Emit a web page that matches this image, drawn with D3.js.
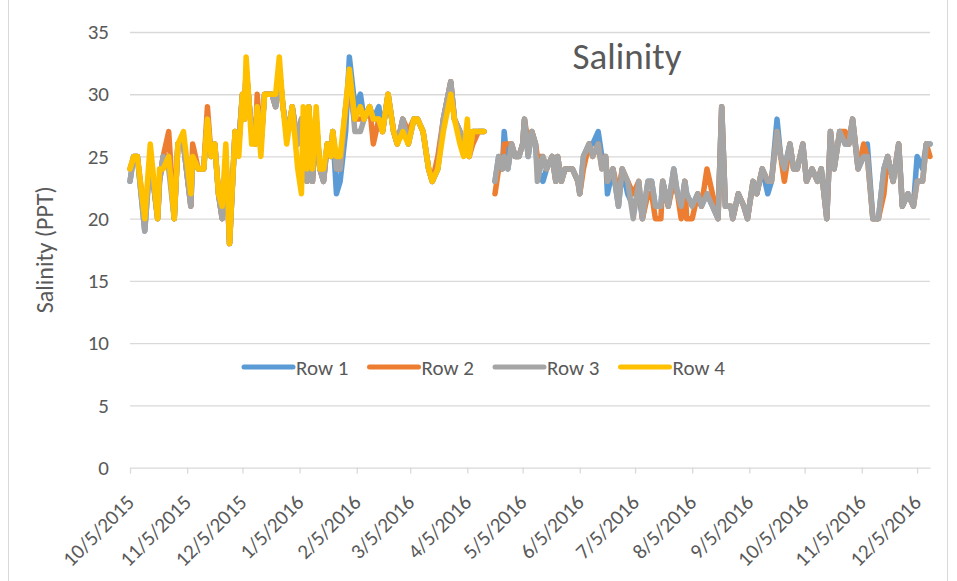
<!DOCTYPE html>
<html>
<head>
<meta charset="utf-8">
<script src="https://cdn.jsdelivr.net/npm/d3@7"></script>
<style>
body { margin: 0; background: #fff; }
text { font-family: Carlito, Calibri, Lato, sans-serif; fill: #595959; }
</style>
</head>
<body>
<div id="chart"></div>
<script>
// dates (daily readings, sampled)
var dates = [
"10/5/2015","10/7/2015","10/9/2015","10/13/2015","10/16/2015","10/20/2015","10/21/2015","10/23/2015","10/26/2015","10/29/2015",
"10/31/2015","11/3/2015","11/7/2015","11/8/2015","11/11/2015","11/14/2015","11/16/2015","11/18/2015","11/20/2015","11/22/2015",
"11/24/2015","11/26/2015","11/28/2015","12/1/2015","12/3/2015","12/5/2015","12/6/2015","12/7/2015","12/10/2015","12/12/2015",
"12/13/2015","12/15/2015","12/17/2015","12/21/2015","12/23/2015","12/25/2015","12/27/2015","12/29/2015","12/31/2015","1/1/2016",
"1/4/2016","1/6/2016","1/7/2016","1/9/2016","1/10/2016","1/12/2016","1/14/2016","1/16/2016","1/18/2016","1/20/2016",
"1/22/2016","1/23/2016","1/25/2016","1/27/2016","1/30/2016","2/1/2016","2/4/2016","2/7/2016","2/9/2016","2/12/2016",
"2/14/2016","2/17/2016","2/19/2016","2/22/2016","2/25/2016","2/27/2016","3/1/2016","3/4/2016","3/7/2016","3/9/2016",
"3/12/2016","3/15/2016","3/17/2016","3/20/2016","3/23/2016","3/27/2016","3/29/2016","4/1/2016","4/3/2016","4/5/2016",
"4/6/2016","4/8/2016","4/11/2016","4/14/2016","4/17/2016","4/20/2016","4/22/2016","4/24/2016","4/25/2016","4/27/2016",
"4/29/2016","5/1/2016","5/3/2016","5/5/2016","5/6/2016","5/8/2016","5/10/2016","5/12/2016","5/13/2016","5/16/2016",
"5/18/2016","5/21/2016","5/23/2016","5/24/2016","5/26/2016","5/28/2016","6/1/2016","6/4/2016","6/5/2016","6/7/2016",
"6/10/2016","6/12/2016","6/15/2016","6/17/2016","6/19/2016","6/20/2016","6/23/2016","6/26/2016","6/28/2016","7/1/2016",
"7/4/2016","7/7/2016","7/9/2016","7/12/2016","7/14/2016","7/16/2016","7/19/2016","7/20/2016","7/23/2016","7/26/2016",
"7/28/2016","7/30/2016","8/1/2016","8/2/2016","8/5/2016","8/8/2016","8/10/2016","8/13/2016","8/16/2016","8/19/2016",
"8/21/2016","8/23/2016","8/26/2016","8/27/2016","8/30/2016","9/2/2016","9/4/2016","9/7/2016","9/9/2016","9/12/2016",
"9/15/2016","9/17/2016","9/20/2016","9/22/2016","9/24/2016","9/27/2016","9/29/2016","10/1/2016","10/4/2016","10/6/2016",
"10/9/2016","10/12/2016","10/14/2016","10/17/2016","10/19/2016","10/21/2016","10/24/2016","10/27/2016","10/29/2016","10/31/2016",
"11/3/2016","11/6/2016","11/8/2016","11/11/2016","11/14/2016","11/17/2016","11/19/2016","11/22/2016","11/25/2016","11/27/2016",
"11/30/2016","12/3/2016","12/5/2016","12/8/2016","12/10/2016","12/12/2016"
];

// salinity (PPT) per row, null = no reading
var row1 = [
23,25,25,19,25,20,23,25,25,20, 26,26,21,25,24,24,28,25,26,22, 20,25,18,27,26,30,28,32,27,26,
29,26,30,30,29,32,29,27,28,29, 26,28,27,23,29,23,28,24,23,26, 25,27,22,23,27,33,29,30,28,29,
28,29,27,30,27,26,28,26,28,28, 27,24,23,24,28,31,28,27,26,27, 25,27,27,27, null,
23,25,24,27,24,26,25,25,26,28, 25,27,26,24,23,24,25,23,25,23, 24,24,23,22,25,26,26,27,25,25,
22,24,21,24,22,21,22,20,23,23, 21,21,23,21,24,22,21,23,22,21, 22,21,22,21,20,29,21,21,20,22,
21,20,23,22,24,22,23,28,25,24, 26,24,24,26,23,24,23,24,20,27, 24,27,26,26,28,24,25,26,20,20,
24,25,23,26,21,22,21,25,24,26, 26
];
var row2 = [
24,25,25,20,25,20,23,25,27,20, 26,26,21,26,24,24,29,25,26,22, 20,25,18,27,26,30,28,32,27,26,
30,26,30,30,29,32,29,27,28,29, 26,28,27,23,29,23,28,24,23,26, 25,27,24,24,29,30,28,28,28,29,
26,28,27,30,27,26,28,27,28,28, 27,24,23,25,28,31,28,27,26,27, 25,26,27,27, null,
22,24,24,26,26,26,25,25,26,28, 26,27,26,25,25,24,25,23,25,23, 24,24,23,22,24,26,25,26,24,25,
23,24,22,24,23,22,23,20,22,22, 20,20,23,21,23,22,20,23,20,20, 22,21,24,22,20,29,21,21,20,22,
21,20,23,22,24,23,23,27,25,23, 26,24,24,26,23,24,23,24,20,27, 24,27,27,26,28,24,26,25,20,20,
22,25,23,26,21,22,21,23,23,26, 25
];
var row3 = [
23,25,25,19,25,20,23,25,24,20, 26,26,21,25,24,24,28,25,26,22, 20,25,18,27,26,30,28,32,27,26,
29,26,30,30,29,32,29,27,28,29, 26,28,27,23,29,23,28,24,23,26, 25,27,24,24,29,32,27,27,28,29,
28,28,27,30,27,26,28,26,28,28, 27,24,23,24,28,31,28,27,26,27, 25,27,27,27, null,
23,25,24,25,24,26,25,25,26,28, 25,27,26,23,25,24,25,23,25,23, 24,24,23,22,25,26,25,26,24,25,
23,24,21,24,23,20,23,20,23,23, 21,21,23,21,24,22,21,23,22,21, 22,21,22,21,20,29,21,21,20,22,
21,20,23,22,24,23,23,27,25,24, 26,24,24,26,23,24,23,24,20,27, 24,27,26,26,28,24,25,25,20,20,
24,25,23,26,21,22,21,23,23,26, 26
];
var row4 = [
24,25,25,20,26,20,24,24,25,20, 26,27,22,25,24,24,28,25,26,22, 21,26,18,27,25,30,28,33,26,26,
29,25,30,30,30,33,29,26,28,29, 24,22,29,24,29,24,29,24,24,26, 25,27,25,25,29,32,28,29,28,29,
28,28,27,30,27,26,27,26,28,28, 27,24,23,24,27,30,28,26,25,28, 25,27,27,27
];

var seriesNames = ["Row 1", "Row 2", "Row 3", "Row 4"];
var seriesColors = ["#5B9BD5", "#ED7D31", "#A5A5A5", "#FFC000"];
var seriesValues = [row1, row2, row3, row4];

// axis ticks
var yTicks = [0, 5, 10, 15, 20, 25, 30, 35];
var xTickLabels = ["10/5/2015","11/5/2015","12/5/2015","1/5/2016","2/5/2016","3/5/2016","4/5/2016",
	"5/5/2016","6/5/2016","7/5/2016","8/5/2016","9/5/2016","10/5/2016","11/5/2016","12/5/2016"];

var parseTime = d3.timeParse("%m/%d/%Y");
var formatDay = d3.timeFormat("%-m/%-d/%Y");

var font = "Carlito, Calibri, Lato, sans-serif";

// width and height
var width = 957, height = 581;
var margin = { left: 130, right: 27, top: 32, bottom: 113.4 };

var svg = d3.select("#chart")
	.append("svg")
	.attr("width", width)
	.attr("height", height);

// chart frame
svg.append("rect")
	.attr("x", 8.5)
	.attr("y", -2)
	.attr("width", 939)
	.attr("height", 600)
	.attr("fill", "none")
	.attr("stroke", "#d9d9d9");

// x and y
var x = d3.scaleTime()
	.domain([parseTime("10/5/2015"), parseTime("12/12/2016")])
	.range([margin.left, width - margin.right]);

var y = d3.scaleLinear()
	.domain([0, 35])
	.range([height - margin.bottom, margin.top]);

// y gridlines
svg.append("g")
	.attr("class", "grid")
	.attr("transform", "translate(" + margin.left + ",0)")
	.call(d3.axisLeft(y)
		.tickValues(yTicks.slice(1))
		.tickSize(-(width - margin.left - margin.right))
		.tickFormat(""))
	.call(function(g){
		g.select(".domain").remove();
		g.selectAll("line").attr("stroke", "#d9d9d9").attr("stroke-width", 1.3);
	});

// y labels
svg.append("g")
	.attr("transform", "translate(" + margin.left + ",0)")
	.call(d3.axisLeft(y).tickValues(yTicks).tickSize(0).tickPadding(21))
	.call(function(g){
		g.select(".domain").remove();
		g.selectAll("text").attr("font-size", "21px").attr("fill", "#595959")
			.style("font-family", font);
	});

// x axis
var xAxisCall = d3.axisBottom(x)
	.tickValues(xTickLabels.map(parseTime))
	.tickSize(6)
	.tickSizeOuter(0)
	.tickFormat(formatDay);

svg.append("g")
	.attr("class", "x-axis")
	.attr("transform", "translate(0," + y(0) + ")")
	.call(xAxisCall)
	.call(function(g){
		g.select(".domain").attr("stroke", "#d9d9d9").attr("stroke-width", 1.3);
		g.selectAll("line").attr("stroke", "#d9d9d9").attr("stroke-width", 1.3);
		g.selectAll("text")
			.attr("font-size", "21px")
			.attr("fill", "#595959")
			.style("font-family", font)
			.style("text-anchor", "end")
			.attr("x", 0)
			.attr("y", 0)
			.attr("dy", 0)
			.attr("transform", "translate(5,36) rotate(-45)");
	});

// lines
var line = d3.line()
	.defined(function(d){ return d.v != null; })
	.x(function(d){ return x(d.date); })
	.y(function(d){ return y(d.v); });

seriesValues.forEach(function(vals, i){
	var pts = dates.map(function(s, j){
		return { date: parseTime(s), v: vals[j] };
	});
	svg.append("path")
		.datum(pts)
		.attr("fill", "none")
		.attr("stroke", seriesColors[i])
		.attr("stroke-width", 5.5)
		.attr("stroke-linejoin", "round")
		.attr("stroke-linecap", "round")
		.attr("d", line);
});

// title
svg.append("text")
	.attr("x", 627)
	.attr("y", 69)
	.attr("text-anchor", "middle")
	.attr("font-size", "37px")
	.text("Salinity");

// y axis label
svg.append("text")
	.attr("transform", "translate(53," + y(17.5) + ") rotate(-90)")
	.attr("text-anchor", "middle")
	.attr("font-size", "24px")
	.text("Salinity (PPT)");

// legend
var legend = svg.append("g")
	.attr("transform", "translate(244,367)");

seriesNames.forEach(function(name, i){
	var item = legend.append("g")
		.attr("transform", "translate(" + (i * 125.5) + ",0)");
	item.append("line")
		.attr("x1", 0).attr("x2", 49)
		.attr("y1", 0).attr("y2", 0)
		.attr("stroke", seriesColors[i])
		.attr("stroke-width", 5)
		.attr("stroke-linecap", "round");
	item.append("text")
		.attr("x", 52)
		.attr("y", 7.5)
		.attr("font-size", "21px")
		.text(name);
});
</script>
</body>
</html>
